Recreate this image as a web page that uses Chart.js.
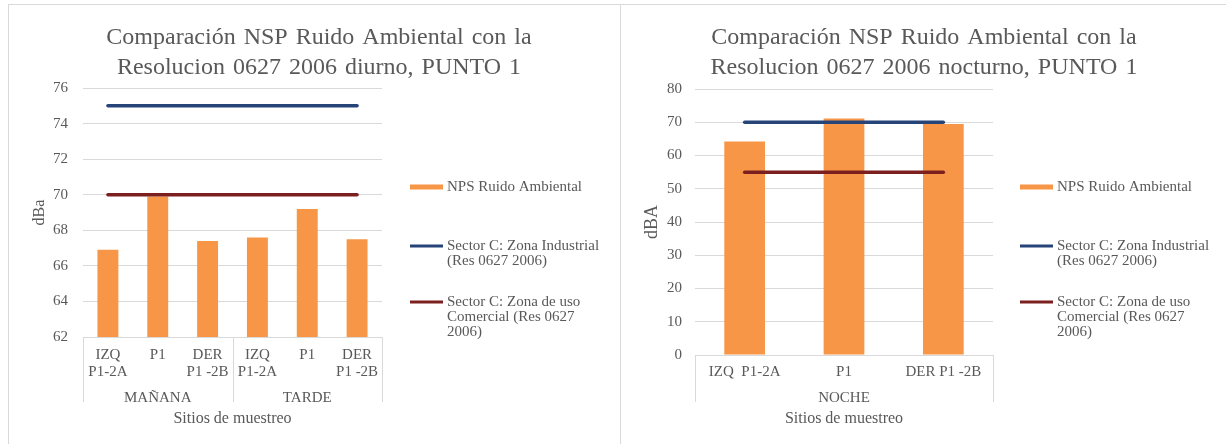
<!DOCTYPE html>
<html lang="es">
<head>
<meta charset="UTF-8">
<title>Comparación NSP Ruido Ambiental - PUNTO 1</title>
<script src="https://cdn.jsdelivr.net/npm/chart.js"></script>
<style>
  body { margin: 0; width: 1226px; height: 444px; overflow: hidden; background: #fff; }
  .panel { position: absolute; top: 4px; height: 460px; border: 1px solid #d9d9d9; }
  #panelDia { left: 8px; width: 611px; }
  #panelNoche { left: 620px; width: 620px; }
  canvas { position: absolute; top: 4px; }
  #graficoDia { left: 8px; }
  #graficoNoche { left: 620px; }
</style>
</head>
<body>
<div class="panel" id="panelDia"></div>
<div class="panel" id="panelNoche"></div>
<canvas id="graficoDia" width="612" height="440"></canvas>
<canvas id="graficoNoche" width="606" height="440"></canvas>

<script>
// series
const nombreSeries = ['NPS Ruido Ambiental', 'Sector C: Zona Industrial (Res 0627 2006)', 'Sector C: Zona de uso Comercial (Res 0627 2006)'];

// jornada diurna
const tituloDia = ['Comparación NSP Ruido Ambiental con la', 'Resolucion 0627 2006 diurno, PUNTO 1'];
const categoriasDia = [['IZQ', 'P1-2A'], 'P1', ['DER', 'P1 -2B'], ['IZQ', 'P1-2A'], 'P1', ['DER', 'P1 -2B']];
const jornadasDia = ['MAÑANA', 'TARDE'];
const npsDia = [66.9, 69.9, 67.4, 67.6, 69.2, 67.5];
const industrialDia = [75, 75, 75, 75, 75, 75];
const comercialDia = [70, 70, 70, 70, 70, 70];
const ejeDia = [62, 76, 2];   // min, max, paso

// jornada nocturna
const tituloNoche = ['Comparación NSP Ruido Ambiental con la', 'Resolucion 0627 2006 nocturno, PUNTO 1'];
const categoriasNoche = ['IZQ  P1-2A', 'P1', 'DER P1 -2B'];
const jornadasNoche = ['NOCHE'];
const npsNoche = [64.2, 71.1, 69.5];
const industrialNoche = [70, 70, 70];
const comercialNoche = [55, 55, 55];
const ejeNoche = [0, 80, 10];

const GRIS = '#595959';
const REJILLA = '#d9d9d9';
const colores = ['#f79646', '#264478', '#7b1f1f'];
const FAMILIA = '"Liberation Serif", "Times New Roman", Times, serif';

Chart.defaults.font.family = FAMILIA;
Chart.defaults.color = GRIS;

// lineas verticales que separan los grupos bajo el eje x
const separadores = {
  id: 'separadores',
  afterDraw(chart, args, opts) {
    const x = chart.scales.x, x2 = chart.scales.x2;
    const ctx = chart.ctx;
    const total = chart.data.labels.length;
    const grupos = x2.getLabels().length;
    const porGrupo = total / grupos;
    ctx.save();
    ctx.strokeStyle = REJILLA;
    ctx.lineWidth = 1;
    for (let g = 0; g <= grupos; g++) {
      const px = Math.round(x.getPixelForValue(g * porGrupo - 0.5)) + 0.5;
      ctx.beginPath();
      ctx.moveTo(px, chart.chartArea.bottom);
      ctx.lineTo(px, x2.top + opts.largo);
      ctx.stroke();
    }
    ctx.restore();
  }
};

// parte un texto en lineas que no pasen de maxAncho
function envolver(ctx, texto, maxAncho) {
  const lineas = [];
  let actual = '';
  texto.split(' ').forEach(p => {
    const prueba = actual ? actual + ' ' + p : p;
    if (actual && ctx.measureText(prueba).width > maxAncho) {
      lineas.push(actual);
      actual = p;
    } else {
      actual = prueba;
    }
  });
  if (actual) lineas.push(actual);
  return lineas;
}

// titulo de dos lineas centrado en el panel
function pluginTitulo(lineas, cx, cy) {
  return {
    id: 'tituloPanel',
    afterDraw(chart) {
      const ctx = chart.ctx;
      ctx.save();
      ctx.font = '24px ' + FAMILIA;
      ctx.fillStyle = GRIS;
      ctx.textAlign = 'center';
      ctx.textBaseline = 'middle';
      if ('wordSpacing' in ctx) ctx.wordSpacing = '2px';
      lineas.forEach((l, k) => ctx.fillText(l, cx, cy + k * 30.5));
      ctx.restore();
    }
  };
}

// leyenda a la derecha del grafico, con textos partidos en varias lineas
function pluginLeyenda(x0, filas) {
  return {
    id: 'leyendaLateral',
    afterDraw(chart) {
      const ctx = chart.ctx;
      ctx.save();
      ctx.font = '15px ' + FAMILIA;
      ctx.textBaseline = 'middle';
      chart.data.datasets.forEach((ds, i) => {
        const y = filas[i];
        const grosor = ds.type === 'line' ? 3 : 5;
        ctx.fillStyle = ds.type === 'line' ? ds.borderColor : ds.backgroundColor;
        ctx.fillRect(x0, y - grosor / 2, 33, grosor);
        ctx.fillStyle = GRIS;
        envolver(ctx, ds.label, 158).forEach((linea, k) => ctx.fillText(linea, x0 + 37, y + k * 15));
      });
      ctx.restore();
    }
  };
}

function crearGrafico(id, titulo, cat, jornadas, nps, industrial, comercial, eje, p) {
  const fuente = { size: 15, lineHeight: 1.15 };
  return new Chart(document.getElementById(id), {
    type: 'bar',
    data: {
      labels: cat,
      datasets: [
        { label: nombreSeries[0], data: nps, backgroundColor: colores[0], barPercentage: p.barra, categoryPercentage: 1, order: 2 },
        { type: 'line', label: nombreSeries[1], data: industrial, borderColor: colores[1], borderWidth: 3.5,
          pointRadius: 0, borderCapStyle: 'round', fill: false, order: 1 },
        { type: 'line', label: nombreSeries[2], data: comercial, borderColor: colores[2], borderWidth: 3.5,
          pointRadius: 0, borderCapStyle: 'round', fill: false, order: 1 }
      ]
    },
    options: {
      responsive: false,
      animation: false,
      layout: { padding: p.margen },
      plugins: {
        legend: { display: false },
        tooltip: { enabled: false },
        separadores: { largo: 15 }
      },
      scales: {
        y: {
          min: eje[0], max: eje[1],
          ticks: { stepSize: eje[2], padding: p.pasoEtiqueta, font: fuente, color: GRIS },
          grid: { color: REJILLA, drawTicks: false },
          border: { display: false },
          title: { display: true, text: p.unidad, color: GRIS, font: { size: p.tamUnidad }, padding: { top: p.tituloY, bottom: 0 } },
          afterFit(s) { s.width = p.anchoY; s.paddingTop = 0; s.paddingBottom = 0; }
        },
        x: {
          offset: true,
          ticks: { autoSkip: false, maxRotation: 0, padding: p.pasoX, font: fuente, color: GRIS },
          grid: { display: false, drawTicks: false },
          border: { display: true, color: REJILLA },
          afterFit(s) { s.height = p.altoX; }
        },
        x2: {
          type: 'category',
          position: 'bottom',
          labels: jornadas,
          offset: true,
          weight: 1,
          ticks: { autoSkip: false, maxRotation: 0, padding: 2, font: fuente, color: GRIS },
          grid: { display: false, drawTicks: false },
          border: { display: false },
          title: { display: true, text: 'Sitios de muestreo', color: GRIS, font: { size: 16, lineHeight: 1.15 }, padding: { top: 2, bottom: 3 } },
          afterFit(s) { s.height = 44; }
        }
      }
    },
    plugins: [separadores, pluginTitulo(titulo, p.centroTitulo, 33.5), pluginLeyenda(p.xLeyenda, [183, 242, 298])]
  });
}

crearGrafico('graficoDia', tituloDia, categoriasDia, jornadasDia, npsDia, industrialDia, comercialDia, ejeDia, {
  barra: 0.42, margen: { top: 84, right: 238, left: 12, bottom: 13 }, anchoY: 63, pasoEtiqueta: 15,
  tituloY: 10, unidad: 'dBa', tamUnidad: 16, pasoX: 9, altoX: 50, centroTitulo: 311, xLeyenda: 402
});

crearGrafico('graficoNoche', tituloNoche, categoriasNoche, jornadasNoche, npsNoche, industrialNoche, comercialNoche, ejeNoche, {
  barra: 0.41, margen: { top: 85, right: 233, left: 10, bottom: 13 }, anchoY: 65, pasoEtiqueta: 13,
  tituloY: 11, unidad: 'dBA', tamUnidad: 18, pasoX: 8, altoX: 32, centroTitulo: 304, xLeyenda: 400
});
</script>
</body>
</html>
